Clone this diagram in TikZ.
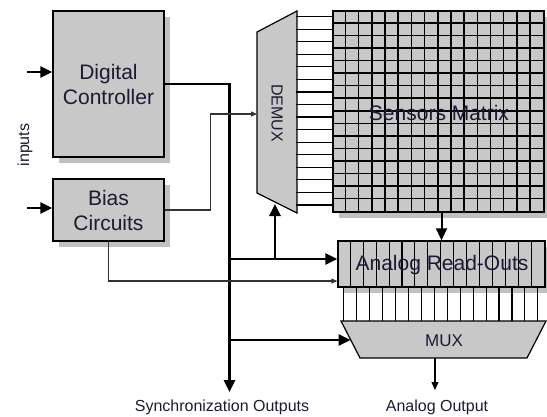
\documentclass[tikz,border=0pt]{standalone}
\usepackage{fontspec}
\setmainfont{Liberation Sans}
\usetikzlibrary{arrows.meta,shadows}

\definecolor{blockgray}{RGB}{200,200,200}
\definecolor{shadowgray}{RGB}{192,192,192}
\definecolor{labelink}{RGB}{26,26,52}

\tikzset{
  block/.style={draw=black, line width=1.4pt, fill=blockgray, text=labelink, align=center,
    inner sep=0pt, font=\fontsize{21}{25}\selectfont},
  boxshadow/.style={drop shadow={shadow xshift=6pt, shadow yshift=-6pt, opacity=1, fill=shadowgray}},
  trap/.style={draw=black, line width=1.2pt, fill=blockgray},
  gridline/.style={line width=1.5pt, black},
  bus/.style={line width=2.6pt, -{Triangle[length=12pt,width=11pt]}},
  midbus/.style={line width=2pt, -{Triangle[length=12pt,width=11pt]}},
  wire/.style={line width=1.1pt, black!80, -{Triangle[length=6pt,width=5pt]}},
  lbl/.style={text=labelink, inner sep=0pt, font=\fontsize{16}{18}\selectfont}
}

\begin{document}
\begin{tikzpicture}[x=1pt, y=-1pt]
  \useasboundingbox (0,0) rectangle (547,416);

  % control blocks on the left
  \node[block, boxshadow, minimum width=111, minimum height=146] (dig) at (108.5,84) {Digital\\Controller};
  \node[block, boxshadow, minimum width=111, minimum height=62] (bias) at (108.5,210) {Bias\\Circuits};
  \node[lbl, rotate=90] (inlbl) at (25,145) {inputs};

  \coordinate (in1) at (27,72);
  \coordinate (in2) at (27,208);
  \draw[bus] (in1) -- (in1 -| dig.west);
  \draw[bus] (in2) -- (in2 -| bias.west);

  % sensor array with its row lines
  \node[block, boxshadow, minimum width=211, minimum height=201] (mat) at (438.5,111.5) {};
  \foreach \k in {1,...,15}{
    \draw[gridline] ([xshift=\k*13.1875pt]mat.north west) -- ([xshift=\k*13.1875pt]mat.south west);
    \draw[gridline] ([yshift=-\k*12.5625pt]mat.north west) -- ([yshift=-\k*12.5625pt]mat.north east);
  }
  \node[text=labelink, font=\fontsize{21}{25}\selectfont] (matlbl) at (439,113) {Sensors Matrix};

  % demultiplexer
  \coordinate (dmx-nw) at (257,32);
  \coordinate (dmx-ne) at (297,11);
  \coordinate (dmx-se) at (297,213);
  \coordinate (dmx-sw) at (257,193);
  \filldraw[trap] (dmx-nw) -- (dmx-ne) -- (dmx-se) -- (dmx-sw) -- cycle;
  \node[lbl, rotate=-90] (dmx) at (277,113) {DEMUX};
  \foreach \k in {0,...,15}
    \draw[line width=1.2pt] ([yshift=-\k*12.5625pt-6.28pt]mat.north west) -- +(-36,0);

  % read-out stage
  \node[block, boxshadow, minimum width=207, minimum height=46] (ro) at (441.5,264) {};
  \foreach \k in {1,...,15}
    \draw[line width=1.1pt] ([xshift=\k*12.9375pt]ro.north west) -- ([xshift=\k*12.9375pt]ro.south west);
  \node[text=labelink, font=\fontsize{21}{25}\selectfont] (rolbl) at (442,265) {Analog Read-Outs};
  \foreach \k in {0,...,15}
    \draw[line width=1.1pt] ([xshift=\k*12.9375pt+6.47pt]ro.south west) -- +(0,34);

  % multiplexer
  \coordinate (mux-nw) at (341,321);
  \coordinate (mux-ne) at (546,321);
  \coordinate (mux-se) at (527,358);
  \coordinate (mux-sw) at (360,358);
  \filldraw[trap] (mux-nw) -- (mux-ne) -- (mux-se) -- (mux-sw) -- cycle;
  \node[lbl, font=\fontsize{17}{19}\selectfont] (mux) at (444,341) {MUX};

  % connections
  \coordinate (sync) at (229.5,392);
  \coordinate (tap1) at (229.5,259);
  \coordinate (tap2) at (229.5,340);
  \coordinate (dmxin) at (257,114);
  \coordinate (dmxb) at (275,204);
  \coordinate (muxin) at (350.5,340);
  \coordinate (aout) at (435,390);

  \draw[bus] (dig.east) -| (sync);
  \draw[bus] (tap1) -- ([yshift=5pt]ro.west);
  \draw[bus] (tap1 -| dmxb) -- (dmxb);
  \draw[bus] (tap2) -- (muxin);
  \draw[wire] (bias.east) -- ++(46,0) |- (dmxin);
  \draw[wire] (bias.south) |- ([yshift=-17pt]ro.west);
  \draw[midbus] (mat.south -| ro.north) -- (ro.north);
  \draw[wire, black, -{Triangle[length=8pt,width=7pt]}] (aout |- mux-sw) -- (aout);

  \node[lbl] (synclbl) at (222,407) {Synchronization Outputs};
  \node[lbl] (aoutlbl) at (437,407) {Analog Output};
\end{tikzpicture}
\end{document}
